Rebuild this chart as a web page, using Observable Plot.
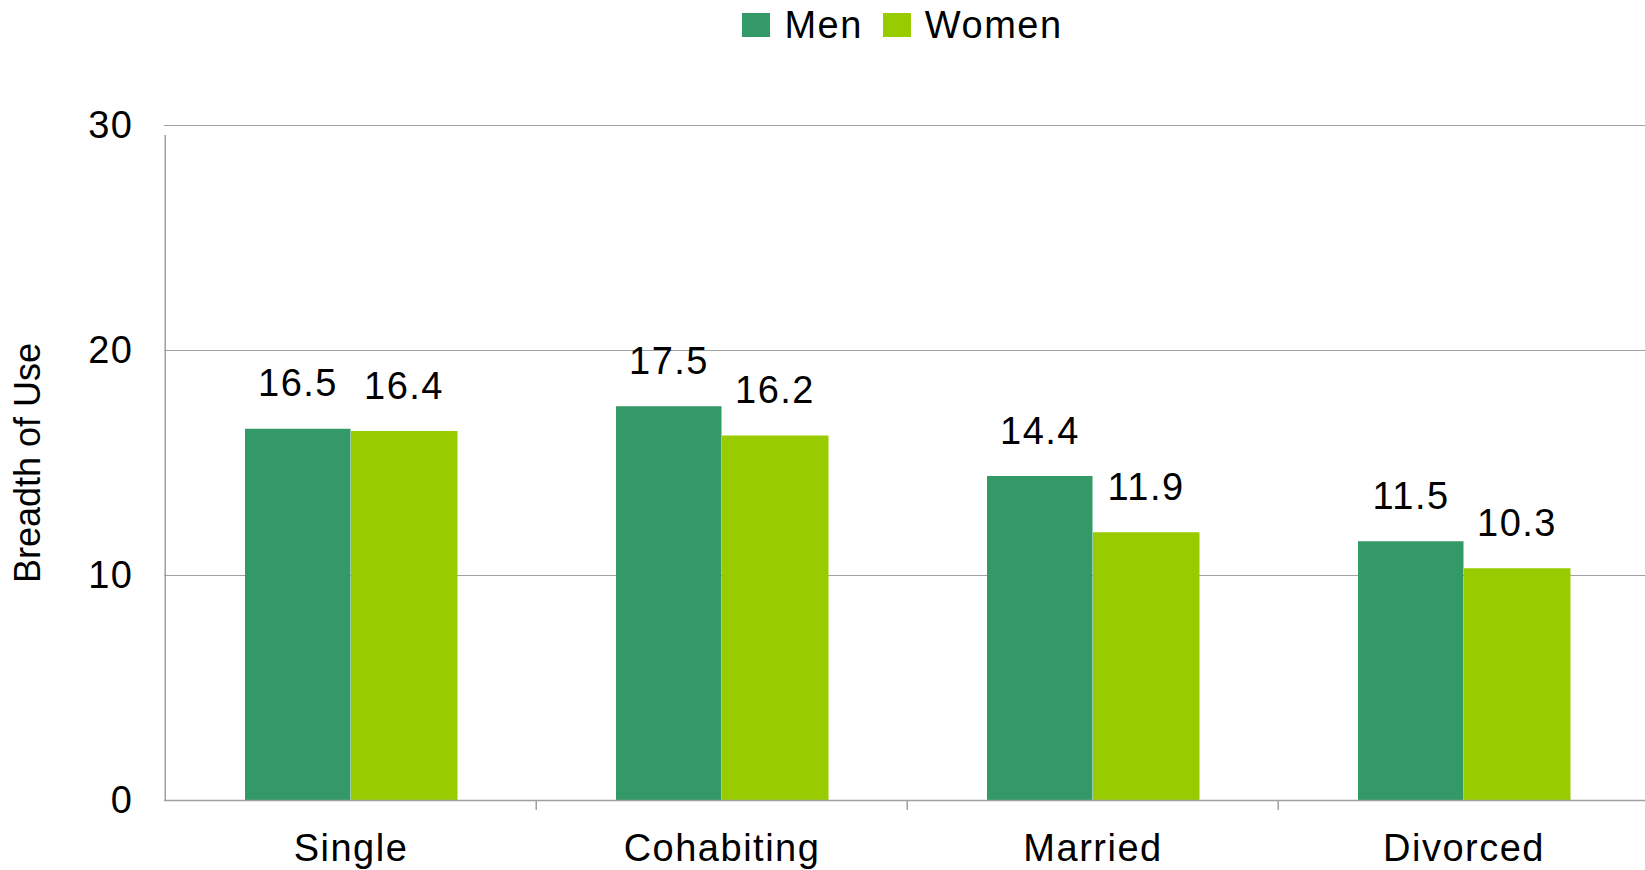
<!DOCTYPE html>
<html><head><meta charset="utf-8">
<script src="https://cdn.jsdelivr.net/npm/d3@7"></script>
<script src="https://cdn.jsdelivr.net/npm/@observablehq/plot@0.6"></script>
<style>
body{margin:0;background:#fff;font-family:"Liberation Sans",Arial,sans-serif;overflow:hidden}
#legend{height:50px;display:flex;align-items:center;justify-content:center;padding-left:160px;box-sizing:border-box;width:1645px;font-size:38px;letter-spacing:1.5px;color:#000}
.item{display:flex;align-items:center;margin:0 10px}
.sw{width:28px;height:24px;margin-right:14px}
#chart g[aria-label="y-axis label"] text{letter-spacing:0;font-size:36px}
</style></head><body>
<div id="legend"></div><div id="chart"></div>
<script>
const categories = ["Single", "Cohabiting", "Married", "Divorced"];
const series = ["Men", "Women"];
const menValues = [16.5, 17.5, 14.4, 11.5];
const womenValues = [16.4, 16.2, 11.9, 10.3];
const yTicks = [0, 10, 20, 30];
const gridValues = [10, 20, 30];
const colors = ["#339966", "#99CC00"];
const yLabel = "Breadth of Use";

const W = 1645, H = 820, ML = 164, MR = -5, MT = 75, MB = 70;
const bw = (W - ML - MR) / categories.length;
const font = "'Liberation Sans', Arial, sans-serif";

const men = categories.map((c, i) => ({category: c, value: menValues[i]}));
const women = categories.map((c, i) => ({category: c, value: womenValues[i]}));

const legend = document.getElementById("legend");
series.forEach((s, i) => {
  const it = document.createElement("div"); it.className = "item";
  const sw = document.createElement("div"); sw.className = "sw"; sw.style.background = colors[i];
  const t = document.createElement("span"); t.textContent = s;
  it.appendChild(sw); it.appendChild(t); legend.appendChild(it);
});

const grid = "#a0a0a0";
const chart = Plot.plot({
  width: W, height: H,
  marginLeft: ML, marginRight: MR, marginTop: MT, marginBottom: MB,
  style: {fontSize: "38px", fontFamily: font, letterSpacing: "1.5px", background: "#fff", color: "#000", overflow: "hidden"},
  x: {domain: categories, padding: 0, tickSize: 0, tickPadding: 34, label: null},
  y: {domain: [0, 30], ticks: yTicks, tickSize: 0, tickPadding: 31, label: yLabel, labelAnchor: "center", labelOffset: 150, labelArrow: "none"},
  marks: [
    Plot.ruleY(gridValues, {stroke: grid, strokeWidth: 1.2}),
    Plot.barY(men, {x: "category", y: "value", fill: colors[0], insetLeft: 80, insetRight: bw - 186}),
    Plot.barY(women, {x: "category", y: "value", fill: colors[1], insetLeft: 186, insetRight: bw - 186 - 107}),
    Plot.ruleY([0], {stroke: grid, strokeWidth: 1.5}),
    Plot.ruleX([categories[0]], {x: d => d, dx: -bw / 2, y1: 0, y2: 30, insetBottom: -10, stroke: grid, strokeWidth: 1.5}),
    Plot.ruleX(categories.slice(1), {x: d => d, dx: -bw / 2, y1: 0, y2: 0, insetBottom: -10, stroke: grid, strokeWidth: 1.5}),
    Plot.text(men, {x: "category", y: "value", text: d => d.value.toFixed(1), dx: -53, dy: -45, fontSize: 38}),
    Plot.text(women, {x: "category", y: "value", text: d => d.value.toFixed(1), dx: 53, dy: -45, fontSize: 38})
  ]
});
document.getElementById("chart").appendChild(chart);
</script>
</body></html>
